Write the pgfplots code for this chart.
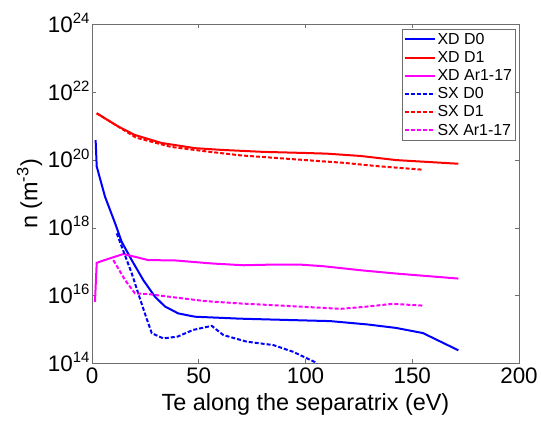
\documentclass[border=0pt]{standalone}
\usepackage{fontspec}
\setmainfont{Liberation Sans}
\usepackage{pgfplots}
\pgfplotsset{compat=1.18}
\definecolor{mblue}{RGB}{0,0,255}
\definecolor{mred}{RGB}{255,0,0}
\definecolor{mmag}{RGB}{255,0,255}
\definecolor{axgray}{RGB}{110,110,110}
\newcommand{\tp}[1]{10\raisebox{0.75ex}{\fontsize{15}{15}\selectfont #1}}
\begin{document}
\begin{tikzpicture}
\useasboundingbox (-92bp,-61.5bp) rectangle (449bp,363.5bp);
\begin{axis}[
  at={(0,0)}, anchor=south west,
  scale only axis, width=427bp, height=339bp,
  ymode=log, xmin=0, xmax=200, ymin=1e14, ymax=1e24,
  xtick={0,50,100,150,200},
  ytick={1e14,1e16,1e18,1e20,1e22,1e24},
  yticklabels={\tp{14},\tp{16},\tp{18},\tp{20},\tp{22},\tp{24}},
  yminorticks=false,
  tick align=inside, tick pos=both, major tick length=4bp,
  axis line style={axgray, line width=0.6bp},
  tick style={axgray, line width=0.6bp},
  ticklabel style={font=\fontsize{22.5}{24}\selectfont, /pgf/number format/assume math mode=true},
  yticklabel style={anchor=base east, yshift=-7.9bp, xshift=1bp},
  xticklabel style={yshift=-1bp},
  xlabel={Te along the separatrix (eV)},
  ylabel={n (m\textsuperscript{-3})},
  label style={font=\fontsize{23.5}{25}\selectfont},
  xlabel style={at={(axis description cs:0.5,0)}, anchor=center, yshift=-41bp},
  ylabel style={at={(axis description cs:-0.146,0.5)}, anchor=center, rotate=0},
  legend style={at={(1,1)}, anchor=north east, xshift=-3.3bp, yshift=-5bp,
    draw=axgray, font=\fontsize{16}{18}\selectfont, inner sep=1.5bp,
    row sep=1.6bp, cells={anchor=west}},
  legend image code/.code={\draw[#1] (0bp,0bp) -- (30bp,0bp);},
  every axis plot/.append style={line width=2bp},
]
\addplot[mblue] coordinates {
(1.7,3.9e20) (2.2,6.5e19) (6.1,8.3e18) (10.8,1.38e18) (13.9,3.9e17) (18.6,1.12e17)
(24.0,2.9e16) (29.5,9.3e15) (34.2,4.8e15) (40.4,3.0e15) (48.2,2.4e15) (69.4,2.1e15)
(100,1.86e15) (111.6,1.78e15) (129.4,1.41e15) (142.4,1.12e15) (155,7.9e14) (171.6,2.45e14)};
\addlegendentry{XD D0}
\addplot[mred] coordinates {
(2.2,2.4e21) (12.3,9.8e20) (20.1,5.5e20) (32.6,3.2e20) (48.2,2.25e20) (60.7,2.0e20)
(80,1.75e20) (100,1.62e20) (110,1.55e20) (126,1.32e20) (142.4,1.0e20) (171.6,7.8e19)};
\addlegendentry{XD D1}
\addplot[mmag] coordinates {
(1.4,6.6e15) (2.2,9.3e16) (4.5,1.05e17) (14.7,1.7e17) (26.4,1.12e17) (38.6,1.1e17)
(56.4,8.9e16) (71,7.9e16) (85.6,8.3e16) (97,8.3e16) (108.4,7.4e16) (126.2,5.6e16)
(142.4,4.5e16) (171.6,3.2e16)};
\addlegendentry{XD Ar1-17}
\addplot[mblue, dash pattern=on 4bp off 2bp] coordinates {
(11.6,6.9e17) (18.6,4.6e16) (22.0,1.0e16) (25.6,2.1e15) (28.0,7.8e14) (33.4,5.5e14)
(40,6.2e14) (47.4,9.8e14) (56.1,1.29e15) (61.5,6.9e14) (72.5,4.4e14) (84.9,3.5e14)
(94.3,2.2e14) (104.4,1.1e14) (107,7e13)};
\addlegendentry{SX D0}
\addplot[mred, dash pattern=on 4bp off 2bp] coordinates {
(2.2,2.4e21) (9.4,1.26e21) (20.6,4.6e20) (37,2.45e20) (53,1.82e20) (69.4,1.38e20)
(100,1.0e20) (118,8.3e19) (134,6.6e19) (155,5.2e19)};
\addlegendentry{SX D1}
\addplot[mmag, dash pattern=on 4bp off 2bp] coordinates {
(10.0,1.12e17) (15.5,2.9e16) (20.1,1.17e16) (26.4,1.12e16) (32.1,1.0e16) (53.2,6.9e15)
(69.4,5.9e15) (93.8,4.9e15) (116.5,4.1e15) (127.8,4.7e15) (140.8,5.75e15) (155,5.1e15)};
\addlegendentry{SX Ar1-17}
\end{axis}
\end{tikzpicture}
\end{document}
